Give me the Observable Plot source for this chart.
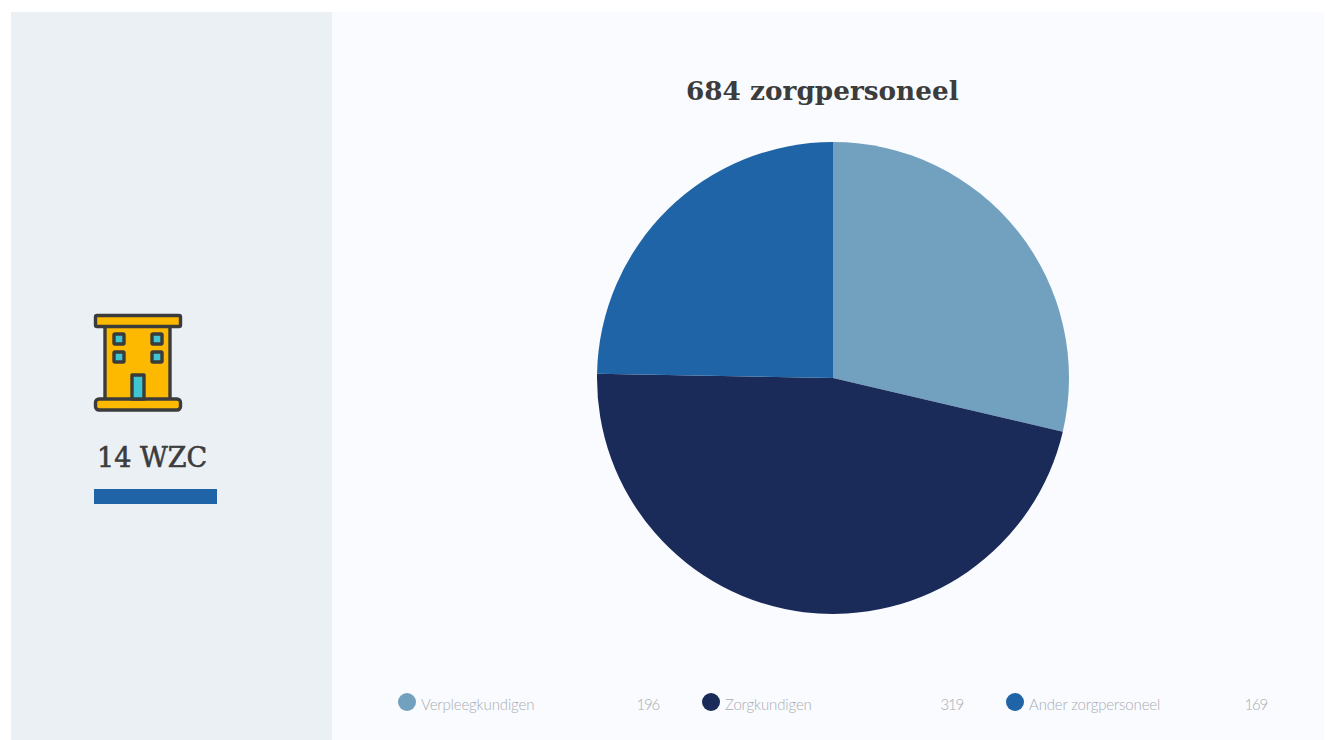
<!DOCTYPE html>
<html lang="nl">
<head>
<meta charset="utf-8">
<title>684 zorgpersoneel</title>
<script src="https://cdn.jsdelivr.net/npm/d3@7"></script>
<script src="https://cdn.jsdelivr.net/npm/@observablehq/plot@0.6"></script>
<style>
  html, body { margin: 0; padding: 0; background: #fff; }
  body { position: relative; width: 1325px; height: 740px; overflow: hidden; }
  .panel { position: absolute; top: 12px; height: 728px; }
  #side { left: 11px; width: 321px; background: #ebf0f5; }
  #main { left: 332px; width: 992px; background: #f9fbff; }
  .slab { position: absolute; font-family: "DejaVu Serif", serif; color: #3c3c3c; white-space: nowrap; }
  #title { left: 686px; top: 73px; font-size: 26.3px; font-weight: 700; line-height: 36px; }
  #count { left: 97px; top: 439px; font-size: 27px; line-height: 38px; -webkit-text-stroke: 0.6px #3c3c3c; }
  #rule { position: absolute; left: 94px; top: 489px; width: 123px; height: 15px; background: #1f64a6; }
  #icon { position: absolute; left: 89px; top: 310px; }
  #pie { position: absolute; left: 597px; top: 142px; }
  #pie svg { background: transparent; display: block; }
  .swatch { position: absolute; top: 693px; width: 18px; height: 18px; border-radius: 50%; }
  .legend { position: absolute; top: 694px; font-family: Lato, "Open Sans", sans-serif; font-weight: 300;
            font-size: 15px; line-height: 20px; color: #aaacb3; white-space: nowrap; letter-spacing: -0.15px; }
  .legend.value { letter-spacing: -1.2px; }
</style>
</head>
<body>
<div id="side" class="panel"></div>
<div id="main" class="panel"></div>

<svg id="icon" width="96" height="106" viewBox="0 0 96 106">
  <g stroke="#3b3b3b" stroke-width="3.4" stroke-linejoin="round">
    <rect x="16" y="15" width="65" height="75" fill="#fdb900"/>
    <rect x="6.5" y="5.5" width="85" height="11" rx="1.5" fill="#fdb900"/>
    <rect x="6.5" y="89" width="85" height="11" rx="3.5" fill="#fdb900"/>
    <rect x="25" y="24" width="10" height="10" rx="1" fill="#3fc4d2"/>
    <rect x="63" y="24" width="10" height="10" rx="1" fill="#3fc4d2"/>
    <rect x="25" y="42" width="10" height="10" rx="1" fill="#3fc4d2"/>
    <rect x="63" y="42" width="10" height="10" rx="1" fill="#3fc4d2"/>
    <rect x="43" y="65" width="12" height="24" fill="#3fc4d2"/>
  </g>
</svg>
<div id="count" class="slab">14 WZC</div>
<div id="rule"></div>

<div id="title" class="slab">684 zorgpersoneel</div>
<div id="pie"></div>

<script>
// Personnel counts per care role
const roles = ["Verpleegkundigen", "Zorgkundigen", "Ander zorgpersoneel"];
const counts = [196, 319, 169];
const roleColors = ["#72a1c0", "#1a2b59", "#1f64a6"];

// Pixel columns for the legend row
const swatchLeft = [398, 702, 1006];
const labelLeft = [421, 725, 1029];
const valueRight = [659, 963, 1267];

const slices = roles.map((role, i) => ({role, count: counts[i]}));

// A dot mark supplies the scales; its render swaps each dot for a pie wedge
function pieWedges(index, scales, values) {
  const radius = scales.x(1) - scales.x(0);
  const cx = scales.x(0);
  const cy = scales.y(0);
  const wedges = d3.pie().sort(null).value((d) => d.count)(slices);
  const arc = d3.arc().innerRadius(0).outerRadius(radius);
  const g = d3.create("svg:g").attr("transform", `translate(${cx},${cy})`);
  for (const i of index) {
    g.append("path").attr("d", arc(wedges[i])).attr("fill", values.fill[i]);
  }
  return g.node();
}

const chart = Plot.plot({
  width: 472,
  height: 472,
  margin: 0,
  x: {domain: [-1, 1], axis: null},
  y: {domain: [-1, 1], axis: null},
  color: {domain: roles, range: roleColors},
  marks: [
    Plot.dot(slices, {x: () => 0, y: () => 0, fill: "role", render: pieWedges})
  ]
});
document.getElementById("pie").append(chart);

// Legend row: swatch, role name and count
roles.forEach((role, i) => {
  const swatch = document.createElement("div");
  swatch.className = "swatch";
  swatch.style.left = swatchLeft[i] + "px";
  swatch.style.background = roleColors[i];
  document.body.append(swatch);

  const label = document.createElement("div");
  label.className = "legend";
  label.style.left = labelLeft[i] + "px";
  label.textContent = role;
  document.body.append(label);

  const value = document.createElement("div");
  value.className = "legend value";
  value.style.right = (1325 - valueRight[i]) + "px";
  value.textContent = counts[i];
  document.body.append(value);
});
</script>
</body>
</html>
